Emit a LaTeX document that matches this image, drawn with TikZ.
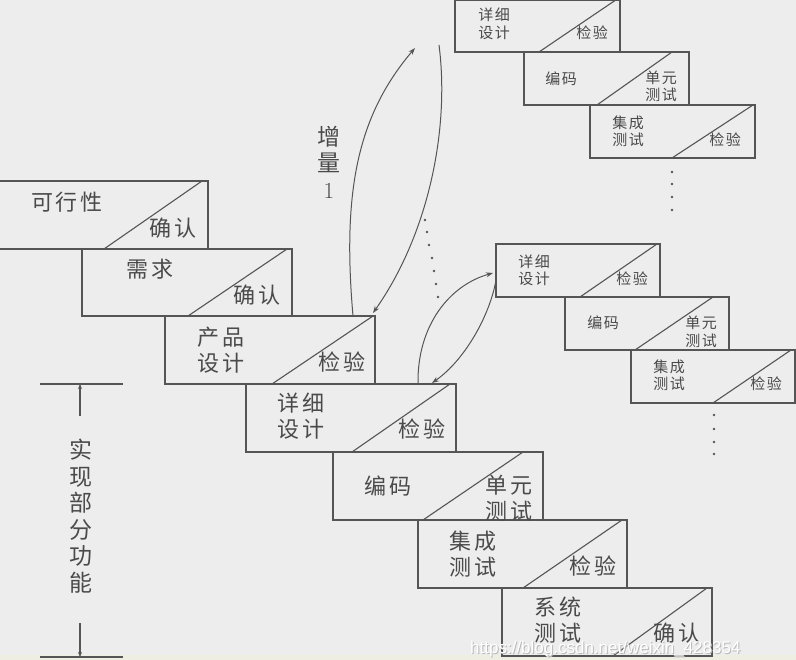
\documentclass[tikz,border=0pt]{standalone}
\usepackage{fontspec}
\usetikzlibrary{calc,arrows.meta}
\newfontfamily\cjk[LetterSpace=10]{Noto Sans CJK SC}
\newfontfamily\wmfont{Liberation Sans}
\definecolor{bg}{HTML}{EDEDED}
\definecolor{strip}{HTML}{EFEEE2}
\definecolor{ln}{HTML}{555555}
\definecolor{txt}{HTML}{4A4A4A}
\newcommand\mkbox[7]{%
  \node[stepbox,minimum width=#4pt,minimum height=#5pt] (#1) at (#2,#3) {};
  \draw[diag] ($(#1.south west)+(#6,0)$) -- ($(#1.north east)+(-#7,0)$);}
\begin{document}
\begin{tikzpicture}[x=1pt,y=-1pt,
  stepbox/.style={draw=ln,line width=1.3pt,inner sep=0pt,outer sep=0pt,anchor=north west},
  diag/.style={draw=ln,line width=1.1pt},
  bigtxt/.style={text=txt,font=\cjk\fontsize{22}{25.5}\selectfont,align=center,inner sep=0pt},
  smalltxt/.style={text=txt,font=\cjk\fontsize{15}{17.5}\selectfont,align=center,inner sep=0pt},
  lbl/.style={text=txt,font=\cjk\fontsize{23}{26.5}\selectfont,align=center,inner sep=0pt},
  curve/.style={draw=ln,line width=1pt},
  tip/.style={-{Stealth[length=7pt,width=5pt]}},
  dimtip/.style={-{Stealth[length=5pt,width=4pt]}},
  dimline/.style={draw=ln,line width=1.1pt},
  wmtxt/.style={anchor=base west,font=\wmfont\fontsize{17}{17}\selectfont,inner sep=0pt}]

\fill[bg] (0,0) rectangle (796,660);
\fill[strip] (0,655) rectangle (796,660);
\useasboundingbox (0,0) rectangle (796,660);
\clip (0,0) rectangle (796,660);

% main staircase
\mkbox{b1}{-3}{181}{211}{68}{107}{6}
\mkbox{b2}{82}{249}{210}{67}{106}{5}
\mkbox{b3}{165}{316}{210}{68}{107}{2}
\mkbox{b4}{246}{384}{210}{68}{106}{6}
\mkbox{b5}{333}{452}{210}{68}{90}{20}
\mkbox{b6}{418}{520}{209}{68}{105}{5}
\mkbox{b7}{502}{588}{210}{68}{111}{5}

% upper right group
\mkbox{u1}{455}{0.5}{165}{51.5}{84}{5}
\mkbox{u2}{524}{52}{165}{53}{73}{17}
\mkbox{u3}{590}{105}{165}{53}{82}{2}

% middle right group
\mkbox{m1}{496}{244}{164}{53}{84}{3}
\mkbox{m2}{565}{297}{164}{53}{70}{16}
\mkbox{m3}{631}{350}{164}{53}{82}{4}

% main texts
\node[bigtxt] (t1a) at (67,202) {可行性};
\node[bigtxt] (t1b) at (173,228) {确认};
\node[bigtxt] (t2a) at (150,269) {需求};
\node[bigtxt] (t2b) at (257,295) {确认};
\node[bigtxt] (t3a) at (221,350) {产品\\设计};
\node[bigtxt] (t3b) at (342,362) {检验};
\node[bigtxt] (t4a) at (301,416) {详细\\设计};
\node[bigtxt] (t4b) at (422,429) {检验};
\node[bigtxt] (t5a) at (388,486) {编码};
\node[bigtxt] (t5b) at (509,498) {单元\\测试};
\node[bigtxt] (t6a) at (473,554) {集成\\测试};
\node[bigtxt] (t6b) at (593,566) {检验};
\node[bigtxt] (t7a) at (558,620) {系统\\测试};
\node[bigtxt] (t7b) at (677,633) {确认};

% upper right texts
\node[smalltxt] (u1a) at (494,24) {详细\\设计};
\node[smalltxt] (u1b) at (592,33) {检验};
\node[smalltxt] (u2a) at (561,79) {编码};
\node[smalltxt] (u2b) at (661,86.5) {单元\\测试};
\node[smalltxt] (u3a) at (628,131.5) {集成\\测试};
\node[smalltxt] (u3b) at (725,140) {检验};

% middle right texts
\node[smalltxt] (m1a) at (534,270.5) {详细\\设计};
\node[smalltxt] (m1b) at (632,279) {检验};
\node[smalltxt] (m2a) at (603,323) {编码};
\node[smalltxt] (m2b) at (701,332) {单元\\测试};
\node[smalltxt] (m3a) at (669,375.5) {集成\\测试};
\node[smalltxt] (m3b) at (766,384) {检验};

% increment label
\node[lbl] (inc) at (329,162) {增\\量\\{\rmfamily 1}};

% big loop
\coordinate (bigA) at (415,48);
\coordinate (bigB) at (439,45);
\draw[curve,tip] ($(b3.north west)+(188,0)$) .. controls (342,190) and (358,115) .. (bigA);
\draw[curve,tip] (bigB) .. controls (450,130) and (428,235) .. ($(b3.north east)+(-2,-3)$);

% small loop
\coordinate (smA) at ($(m1.north west)+(-3,29)$);
\coordinate (smB) at ($(m1.north west)+(0,36)$);
\draw[curve,tip] ($(b4.north west)+(172,0)$) .. controls (417,325) and (450,285) .. (smA);
\draw[curve,tip] (smB) .. controls (490,315) and (465,360) .. ($(b4.north west)+(186,-1)$);

% dots
\foreach \px/\py in {425/220,427/232,429/245,432/258,434/271,436/284,438/297}
  \fill[ln] (\px,\py) circle (1.4pt);
\foreach \py in {172,184,197,210}
  \fill[ln] (672,\py) circle (1.4pt);
\foreach \py in {415,429,442,454}
  \fill[ln] (714,\py) circle (1.4pt);

% dimension
\coordinate (dimT) at (80,384);
\coordinate (dimB) at (80,657);
\draw[dimline] (40,384) -- (123,384);
\draw[dimline] (40,657) -- (123,657);
\draw[dimline,dimtip] (80,416) -- (dimT);
\draw[dimline,dimtip] (80,623) -- (dimB);
\node[lbl] (impl) at (81,516) {实\\现\\部\\分\\功\\能};

% watermark
\node[wmtxt,text=gray!55] (wmS) at (471,654) {https://blog.csdn.net/weixin\_428354};
\node[wmtxt,text=white] (wm) at (470,653) {https://blog.csdn.net/weixin\_428354};
\end{tikzpicture}
\end{document}
